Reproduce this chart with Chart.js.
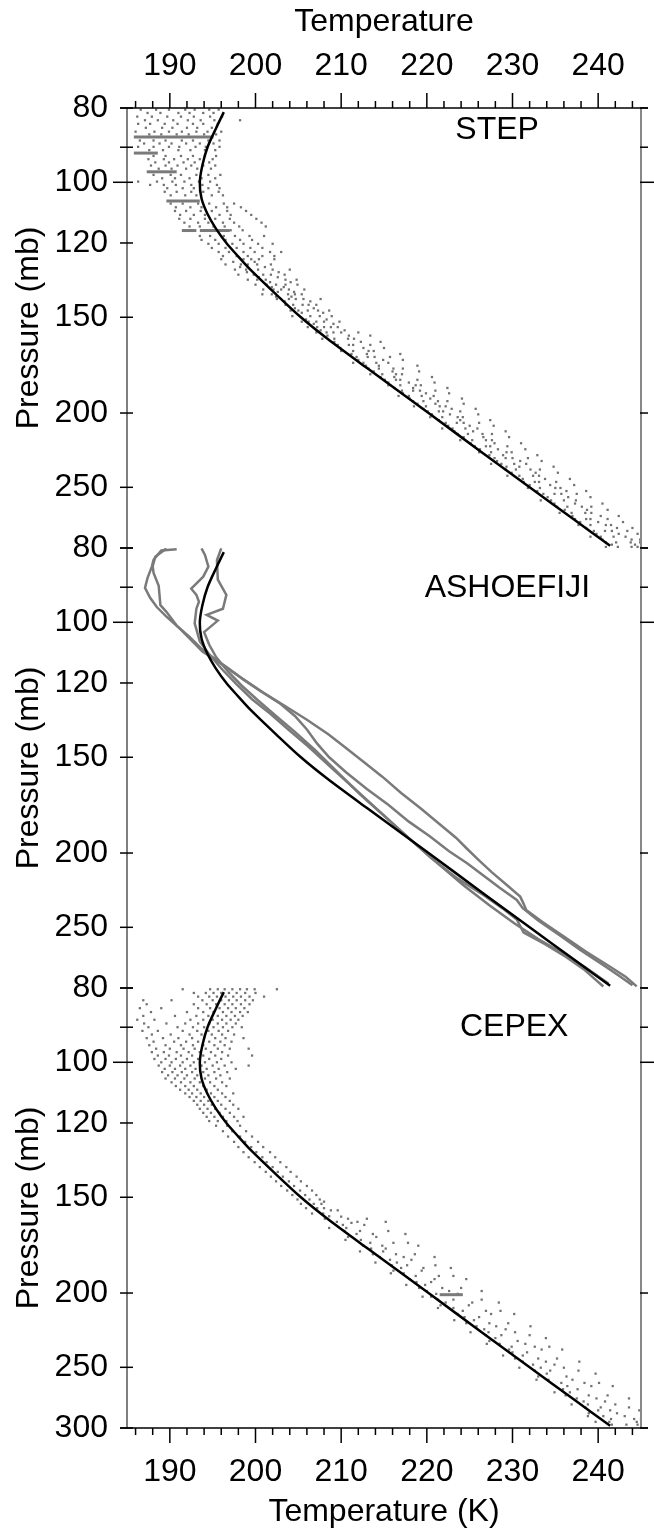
<!DOCTYPE html>
<html>
<head>
<meta charset="utf-8">
<script src="https://cdn.jsdelivr.net/npm/chart.js@4/dist/chart.umd.min.js"></script>
<style>
  html, body { margin: 0; padding: 0; background: #fff; }
  #wrap { position: relative; width: 654px; height: 1531px; }
  #wrap canvas { position: absolute; left: 0; top: 0; }
</style>
</head>
<body>
<div id="wrap">
  <canvas id="step" width="654" height="1531"></canvas>
  <canvas id="ashoe" width="654" height="1531"></canvas>
  <canvas id="cepex" width="654" height="1531"></canvas>
</div>
<script>
// axis ticks
const tempTicks = [190, 200, 210, 220, 230, 240];
const presTicks = [80, 90, 100, 120, 150, 200, 250, 300];
const rightTicks = [80, 90, 100, 200, 300];

// mean profile (black curve), pressure mb / temperature K
const meanP = [81, 85, 90, 95, 100, 105, 110, 115, 120, 125, 130, 140, 150, 160, 175, 200, 225, 250, 275, 298];
const meanT = [196.3, 195.4, 194.4, 193.8, 193.5, 193.7, 194.4, 195.4, 196.6, 198.0, 199.4, 202.4, 205.3, 208.4, 213.1, 220.2, 226.4, 232.0, 237.1, 241.4];

// STEP observations: [pressure, temperatures...]
const stepRows = [
  [80.4, 186.6, 188.4, 189.9, 191.8, 192.9, 194.6, 195.7],
  [81.2, 187.4, 188.9, 191.0, 192.3, 193.9, 195.1],
  [82.1, 186.2, 187.9, 189.7, 191.3, 192.8, 194.7, 196.1],
  [83.0, 187.1, 188.6, 190.4, 192.1, 193.6, 195.2, 198.2],
  [83.9, 186.3, 187.7, 189.4, 190.9, 192.7, 193.9, 195.6],
  [84.9, 187.2, 189.1, 190.3, 192.0, 193.2, 194.9],
  [85.9, 186.0, 188.2, 189.9, 191.4, 193.1, 194.4, 196.0],
  [86.6, 187.6, 189.0, 190.8, 192.2, 194.0, 195.4],
  [88.2, 186.5, 188.1, 189.5, 191.4, 192.7, 194.5, 195.8],
  [89.0, 187.0, 188.8, 190.2, 191.9, 193.5, 195.1],
  [89.9, 186.3, 188.1, 189.9, 191.1, 193.0, 194.2, 195.8],
  [90.8, 187.6, 189.2, 191.0, 192.4, 194.1, 195.3],
  [92.4, 188.1, 189.5, 191.3, 192.7, 194.1, 195.4],
  [93.3, 187.5, 189.3, 190.5, 192.1, 193.5, 195.0],
  [94.2, 188.3, 189.9, 191.6, 192.9, 194.6],
  [95.1, 187.8, 189.5, 190.9, 192.5, 193.9, 195.3],
  [96.0, 188.7, 190.2, 191.9, 193.2, 194.8],
  [97.8, 188.1, 190.1, 191.3, 193.1, 194.5, 195.9],
  [98.8, 189.1, 190.6, 192.3, 193.7, 195.3],
  [99.8, 186.3, 188.5, 190.3, 191.7, 193.4, 194.7],
  [100.8, 187.7, 189.3, 190.7, 192.5, 193.8, 195.5],
  [101.8, 189.7, 191.5, 192.8, 194.5, 195.8],
  [102.9, 189.4, 190.8, 192.5, 193.9, 195.7],
  [104.0, 190.1, 191.8, 193.1, 194.9, 196.2],
  [106.6, 190.1, 191.5, 193.3, 194.6, 196.3, 197.5],
  [107.8, 190.7, 192.4, 193.7, 195.4, 196.7, 198.3],
  [109.0, 190.6, 191.9, 193.6, 194.9, 196.7, 198.9],
  [110.3, 191.2, 192.8, 194.1, 195.8, 197.1, 199.5],
  [111.6, 191.1, 192.4, 194.1, 195.3, 197.0, 200.1],
  [112.9, 191.7, 193.3, 194.5, 196.2, 197.5, 200.7],
  [114.2, 192.3, 193.5, 195.1, 196.4, 198.1, 201.2],
  [115.5, 192.5, 194.2, 195.4, 197.1, 198.5],
  [117.5, 193.5, 194.7, 196.3, 197.6, 199.3, 201.0],
  [118.9, 193.7, 195.3, 196.5, 198.2, 199.6],
  [120.3, 194.5, 195.7, 197.3, 198.6, 200.3, 202.0],
  [121.8, 194.9, 196.5, 197.8, 199.4, 200.8],
  [123.3, 195.7, 196.9, 198.6, 199.9, 201.7, 203.0],
  [124.8, 196.2, 197.8, 199.1, 200.8, 202.2],
  [126, 196.0, 198.6, 199.5, 200.4, 202.2],
  [127, 197.4, 199.9],
  [128, 196.5, 198.3, 199.1, 200.2, 201.8],
  [129, 198.2, 201.1],
  [130, 197.6, 198.9, 200.3, 202.0, 204.0],
  [131, 199.0, 202.7],
  [132, 198.0, 199.8, 200.9, 201.8, 203.4],
  [133, 200.4, 202.6],
  [134, 199.1, 200.2, 201.2, 203.5, 204.8],
  [135, 201.7, 204.1],
  [136, 200.0, 201.3, 202.4, 203.5, 204.9],
  [137, 201.9, 203.3],
  [138, 200.9, 202.1, 203.0, 203.9, 205.7],
  [139, 202.6, 204.5],
  [140, 200.8, 201.9, 203.8, 204.6, 205.4],
  [141, 202.4, 204.2],
  [142, 202.5, 203.9, 204.7, 205.6, 207.6],
  [143, 203.4, 206.4],
  [144.5, 203.5, 204.4, 205.5, 206.2, 207.1],
  [146, 204.6, 206.8],
  [147, 204.1, 205.0, 206.1, 207.3, 208.6],
  [148, 205.4, 207.9],
  [149.5, 204.3, 206.4, 207.5, 208.9],
  [151, 205.9, 208.3],
  [152, 205.4, 206.2, 207.1, 208.0, 209.8],
  [153, 206.8, 209.1],
  [154.5, 206.1, 207.2, 208.0, 208.8, 209.6],
  [156, 207.6, 210.4],
  [157, 207.1, 208.3, 209.1, 210.0, 212.0],
  [158.5, 208.4, 210.9, 213.4],
  [160, 207.8, 209.2, 210.8, 211.5],
  [161.5, 209.2, 212.3, 214.6],
  [163, 209.6, 210.9, 211.4, 213.4],
  [164.5, 209.9, 212.6, 215.0],
  [166, 210.0, 211.4, 213.2, 213.8],
  [167.5, 211.2, 213.0, 216.9],
  [169, 211.8, 213.1, 213.9, 215.7],
  [170.5, 212.0, 214.9, 217.2],
  [172, 211.4, 212.6, 214.1, 215.5],
  [173.5, 212.9, 214.4, 218.9],
  [175, 213.2, 214.4, 216.1, 217.2],
  [176.5, 213.8, 216.0, 219.1],
  [178, 213.4, 214.8, 216.4, 217.1],
  [179.5, 214.6, 216.2, 220.6],
  [181, 215.1, 216.4, 216.9, 218.9],
  [182.5, 215.5, 217.9, 220.9],
  [184, 215.5, 216.9, 218.7, 219.3],
  [185.5, 216.2, 218.4, 222.4],
  [187, 217.1, 218.4, 219.2, 221.0],
  [188.5, 217.2, 219.9, 222.6],
  [190, 216.7, 217.9, 219.4, 220.8],
  [191.5, 218.0, 220.4, 224.1],
  [193, 218.4, 219.6, 221.3, 222.4],
  [194.5, 218.9, 221.0, 224.3],
  [196, 218.5, 219.9, 221.5, 222.2],
  [197.5, 219.6, 222.9, 225.7],
  [199, 220.1, 221.4, 221.9, 223.9],
  [200.8, 220.6, 222.7, 226.0],
  [202.5, 220.4, 221.8, 223.6, 224.2],
  [204.3, 221.4, 223.9, 227.4],
  [206, 222.2, 223.5, 224.3, 226.1],
  [207.8, 222.5, 225.0, 227.8],
  [209.5, 221.8, 223.0, 224.5, 225.9],
  [211.3, 223.2, 225.4, 229.2],
  [213, 223.6, 224.8, 226.5, 227.6],
  [215, 224.3, 226.6, 229.6],
  [217, 223.9, 225.3, 226.9, 227.6],
  [219, 225.1, 227.9, 231.0],
  [221, 225.6, 226.9, 227.4, 229.4],
  [223, 226.2, 228.3, 231.5],
  [225, 226.1, 227.5, 229.3, 229.9],
  [227, 227.3, 228.9, 232.9],
  [229, 227.9, 229.2, 230.0, 231.8],
  [231, 228.2, 230.9, 233.4],
  [233, 227.5, 228.7, 230.2, 231.6],
  [235, 229.3, 230.8, 234.8],
  [237, 229.2, 230.4, 232.1, 233.2],
  [239.3, 229.9, 232.7, 235.3],
  [241.5, 229.4, 230.8, 232.4, 233.1],
  [243.8, 231.2, 233.8, 236.7],
  [246, 231.3, 232.6, 233.1, 235.1],
  [248.3, 232.0, 234.4, 237.2],
  [250.5, 231.8, 233.2, 235.0, 235.6],
  [252.8, 232.9, 236.3, 238.6],
  [255, 233.6, 234.9, 235.7, 237.5],
  [257.5, 234.1, 236.5, 239.1],
  [260, 233.3, 234.5, 236.0, 237.4],
  [262.5, 234.9, 237.3, 240.5],
  [265, 235.2, 236.4, 238.1, 239.2],
  [267.5, 236.1, 238.7, 241.1],
  [270, 235.5, 236.9, 238.5, 239.2],
  [272.5, 237.0, 240.3, 242.4],
  [275, 237.3, 238.6, 239.1, 241.1],
  [277.5, 237.9, 240.0, 242.9],
  [280, 237.7, 239.1, 240.9, 241.5],
  [282.5, 238.6, 242.2, 244.0],
  [285, 239.5, 240.8, 241.6, 243.4],
  [287.5, 239.8, 242.4, 244.6],
  [290, 239.1, 240.3, 241.8, 243.2],
  [292.5, 240.5, 243.9, 244.9],
  [295, 240.9, 242.1, 243.8, 244.9],
  [297, 241.6, 244.3],
  [299, 240.9, 242.3, 243.9, 244.6]
];
// STEP level-flight legs: [pressure, T start, T end]
const stepLegs = [
  [87.3, 185.8, 195.1],
  [91.6, 185.8, 188.6],
  [96.9, 187.3, 190.8],
  [105.8, 189.6, 193.5],
  [115.6, 191.4, 193.1],
  [115.6, 193.5, 197.0]
];

// ASHOE/MAESA Fiji profiles: [temperature, pressure]
const ashoeA = [[190.8,80.3],[189.0,80.6],[188.1,82.9],[187.9,84.6],[187.4,87.5],[187.1,90.2],[187.7,92.9],[188.5,95.6],[189.6,98.3],[191.2,102.0],[192.7,106.1],[193.8,109.2],[195.6,112.5],[197.2,115.8],[198.9,119.3],[200.9,123.5],[203.4,128.5],[206.0,134],[208.5,140],[210.6,146],[212.6,152],[214.8,159],[217.0,167],[219.3,175],[221.4,183],[223.4,191],[224.6,197],[226.0,204],[227.6,212],[229.3,220],[230.9,228],[231.3,233],[231.6,237.3],[233.5,246],[236.0,257],[238.6,269],[241.3,281],[243.2,290],[244.5,298.5]];
const ashoeB = [[189.6,80.1],[188.3,82.1],[188.0,84.5],[188.1,86.2],[188.7,89.6],[188.9,95.0],[189.6,96.9],[190.8,101.0],[192.3,104.5],[193.6,108.0],[195.2,111.5],[196.9,115.0],[198.6,118.8],[200.6,123.0],[202.8,127.5],[204.6,132.5],[206.0,138],[207.2,144],[208.6,150],[210.6,157],[213.0,165],[215.5,173],[217.9,182],[220.3,190],[222.6,199],[224.7,206.2],[226.6,214],[228.5,222],[230.5,230.3],[231.2,236],[233.0,245],[235.5,256],[238.0,268],[240.8,281],[242.6,290],[244.0,297.5]];
const ashoeC = [[193.7,80.1],[194.1,81.7],[194.5,84.6],[193.9,87.2],[192.5,90.4],[193.1,92.1],[193.4,94.0],[193.1,96.0],[192.9,100.3],[193.5,105.9],[194.7,110.5],[196.2,115.5],[197.8,120.5],[199.6,126],[201.7,131.5],[203.8,137.9],[206.1,145],[208.9,155],[211.6,165],[214.6,177],[217.6,190],[220.5,203],[223.6,216],[226.6,226.9],[228.8,236],[230.5,244.2],[231.3,254],[233.8,263],[236.2,273],[238.3,283.5],[240.6,298.6]];
const ashoeD = [[196.0,80.1],[195.5,83.0],[195.6,88.0],[196.6,92.1],[196.2,96.0],[194.3,97.8],[195.6,99.5],[194.0,103.0],[194.6,107.0],[195.4,111.0],[196.8,116.0],[198.4,121.0],[200.3,126.5],[202.4,132.5],[204.6,139.0],[207.0,147.0],[209.6,157.0],[212.3,168.0],[215.3,180.0],[218.3,193.0],[221.2,206.0],[224.2,220.0],[227.3,234.0],[230.2,247.0],[233.0,259.0],[235.8,270.0],[238.5,282.0],[241.2,296.0]];

// CEPEX observations: [pressure, temperatures...]
const cepexRows = [
  [80.3, 191.5, 194.7, 195.6, 196.4, 197.3, 198.2, 199.0, 199.9, 202.5],
  [81.2, 192.8, 194.2, 195.1, 196.0, 196.9, 197.8, 198.8, 200.0],
  [82.1, 193.3, 194.6, 195.5, 196.5, 197.4, 198.3, 199.3, 201.0],
  [83.0, 186.9, 190.2, 193.8, 195.0, 196.0, 196.9, 197.8, 198.8, 199.7],
  [84.0, 187.3, 192.8, 194.3, 195.4, 196.4, 197.3, 198.3, 199.3],
  [85.0, 186.5, 189.0, 193.3, 194.7, 195.8, 196.8, 197.7, 198.7],
  [86.0, 187.8, 192.0, 193.9, 195.1, 196.2, 197.2, 198.2, 199.1],
  [87.0, 186.9, 190.6, 193.1, 194.5, 195.6, 196.6, 197.6, 198.5],
  [88.0, 186.2, 188.2, 192.4, 193.9, 195.0, 196.1, 197.1, 198.0],
  [89.0, 187.0, 189.6, 191.8, 193.3, 194.6, 195.6, 196.6, 197.7],
  [90.0, 187.5, 190.9, 192.7, 194.0, 195.1, 196.2, 197.3, 198.4],
  [91.0, 186.8, 188.6, 191.5, 193.2, 194.5, 195.7, 196.8],
  [92.0, 187.9, 190.1, 192.3, 193.7, 194.9, 196.1, 197.5],
  [93.0, 187.3, 189.2, 191.0, 192.6, 194.0, 195.3, 196.5, 198.6],
  [94.0, 188.1, 190.5, 191.9, 193.3, 194.6, 195.9, 197.2],
  [95.0, 187.6, 189.5, 191.3, 192.7, 193.9, 195.2, 196.4],
  [96.0, 188.4, 190.0, 191.6, 192.9, 194.2, 195.6, 197.0, 199.2],
  [97.0, 187.9, 189.3, 190.8, 192.2, 193.5, 194.8, 196.1],
  [98.0, 188.6, 189.9, 191.3, 192.6, 193.9, 195.3, 196.8, 199.6],
  [99.0, 188.2, 189.5, 190.7, 192.0, 193.3, 194.6, 196.0],
  [100.0, 189.0, 190.2, 191.5, 192.8, 194.1, 195.5, 197.2],
  [101.0, 188.7, 190.0, 191.2, 192.4, 193.7, 195.0, 196.4, 199.2],
  [102.0, 189.4, 190.6, 191.8, 193.0, 194.3, 195.7, 197.7],
  [103.0, 189.1, 190.3, 191.4, 192.6, 193.9, 195.2, 196.7],
  [104.0, 189.8, 190.9, 192.0, 193.2, 194.5, 195.9],
  [105.0, 189.5, 190.6, 191.7, 192.9, 194.1, 195.4, 197.0],
  [106.2, 190.2, 191.3, 192.4, 193.5, 194.7, 196.1],
  [107.4, 190.7, 191.8, 192.8, 193.9, 195.2, 196.6],
  [108.6, 191.2, 192.2, 193.2, 194.3, 195.6],
  [109.8, 191.8, 192.6, 193.6, 194.8, 196.1, 197.4],
  [111.0, 192.3, 193.1, 194.0, 195.2, 196.5],
  [112.3, 192.8, 193.6, 194.5, 195.6, 197.0],
  [113.6, 193.2, 194.0, 194.9, 196.0, 197.4],
  [115.0, 193.5, 194.4, 195.3, 196.5, 198.0],
  [116.4, 193.9, 194.8, 195.8, 197.0],
  [117.8, 194.3, 195.2, 196.2, 197.5, 198.6],
  [119.3, 194.6, 195.6, 196.6, 197.9],
  [121, 195.4, 196.7, 198.2],
  [123, 196.2, 197.3, 198.9],
  [125, 196.8, 198.2, 199.6],
  [127, 197.5, 198.8, 200.3],
  [129, 198.0, 199.5, 200.9],
  [131, 198.6, 200.1, 201.7],
  [133, 199.2, 200.8, 202.3],
  [135, 199.9, 201.3, 202.9],
  [137, 200.5, 202.0, 203.6],
  [139, 201.2, 202.6, 204.1],
  [141, 201.8, 203.2, 204.8],
  [143, 202.4, 203.9, 205.3],
  [145, 203.0, 204.5, 206.0],
  [147, 203.7, 205.2, 206.6],
  [149, 204.3, 205.8, 207.1],
  [151, 204.9, 206.3, 207.5],
  [152, 208.0],
  [153, 205.3, 206.8, 207.7],
  [155, 205.9, 207.2, 208.0],
  [156, 208.8, 209.6],
  [157.5, 206.6, 207.9],
  [158.8, 208.6],
  [159, 210.0],
  [160, 208.1, 210.8, 213.0],
  [161.5, 209.5, 211.9, 215.2],
  [162, 211.2],
  [163, 210.2, 212.7],
  [164.5, 208.6, 210.6],
  [166, 210.4, 212.2, 215.5],
  [167.5, 211.8, 213.7, 217.5],
  [169, 210.8, 214.1],
  [170.5, 210.5, 212.3],
  [172, 213.4, 216.1, 217.8],
  [173.5, 212.6, 214.8, 219.0],
  [175, 213.5, 215.2],
  [176.5, 212.2, 214.9],
  [178, 213.7, 216.4, 218.6],
  [179.5, 214.5, 217.3, 220.9],
  [181, 215.7, 218.2],
  [182.5, 214.0, 216.5],
  [184, 215.9, 217.7, 221.0],
  [185.5, 217.0, 219.6, 222.8],
  [187, 216.1, 219.4],
  [188.5, 215.8, 217.3],
  [190, 218.7, 221.4, 223.1],
  [191.8, 218.0, 220.9, 224.6],
  [193.5, 218.8, 220.5],
  [195.2, 217.6, 219.8],
  [197, 219.1, 221.8, 224.0],
  [198.8, 220.0, 222.6, 226.4],
  [200.5, 221.1, 223.6],
  [202.2, 219.5, 220.5],
  [204, 221.3, 223.1, 226.4],
  [205.8, 222.2, 225.3, 228.4],
  [207.5, 221.6, 224.9],
  [209.2, 221.3, 223.1],
  [211, 224.2, 226.9, 228.6],
  [213, 223.6, 227.5, 230.2],
  [215, 224.4, 226.1],
  [217, 223.2, 225.5],
  [219, 224.6, 227.3, 229.5],
  [221, 225.8, 228.1, 232.1],
  [223, 226.7, 229.2],
  [225, 225.1, 227.2, 230.3],
  [227, 226.9, 228.7, 232.0],
  [229, 228.0, 233.9],
  [231, 227.3, 230.6],
  [233, 227.0, 228.5, 231.5],
  [235, 229.9, 232.6, 234.3],
  [237, 229.6, 233.4, 235.8],
  [239, 230.0, 231.7],
  [241.3, 228.9, 231.2],
  [243.5, 230.3, 233.0, 235.2],
  [245.8, 231.2, 233.9, 237.8],
  [248, 232.4, 234.9],
  [250.3, 230.8, 233.3, 236.0],
  [252.5, 232.6, 234.4, 237.7],
  [254.8, 234.0, 239.7],
  [257, 233.0, 236.3],
  [259.5, 232.8, 234.2, 237.0],
  [262, 235.7, 238.4, 240.1],
  [264.5, 236.4, 239.2, 241.7],
  [267, 235.9, 237.6],
  [269.5, 234.9, 236.7],
  [272, 236.2, 238.9, 241.1],
  [274.5, 237.5, 239.8, 243.6],
  [277, 238.3, 240.8],
  [279.5, 236.9, 238.8, 242.0],
  [282, 238.5, 240.3, 243.6],
  [284.5, 240.0, 241.4, 244.8],
  [287, 238.9, 242.2],
  [289.5, 238.8, 240.6, 243.1],
  [292, 241.5, 244.2, 245.0],
  [294.5, 239.7, 241.3, 244.5],
  [297, 241.6, 243.3, 244.6]
];
const cepexLegs = [
  [201, 221.5, 224.2]
];

const FONT = '"Liberation Sans", Arial, Helvetica, sans-serif';
Chart.defaults.font.family = FONT;
Chart.defaults.font.size = 32;
Chart.defaults.color = '#000';

function rowsToPoints(rows) {
  const pts = [];
  rows.forEach(r => r.slice(1).forEach(t => pts.push({x: t, y: r[0]})));
  return pts;
}
function pairsToPoints(arr) {
  return arr.map(([t, p]) => ({x: t, y: p}));
}

const dotStyle = { showLine: false, pointRadius: 1.6, pointStyle: 'rect', backgroundColor: '#727272', borderWidth: 0, order: 3 };
const grayLine = { showLine: true, pointRadius: 0, borderColor: '#7a7a7a', borderWidth: 2.5, tension: 0, order: 2 };
const meanLine = {
  data: meanP.map((p, i) => ({x: meanT[i], y: p})),
  showLine: true, pointRadius: 0, borderColor: '#000', borderWidth: 2.5, tension: 0.3, order: 0
};
function legsToSets(legs) {
  return legs.map(([p, t0, t1]) => Object.assign({ data: [{x: t0, y: p}, {x: t1, y: p}] }, grayLine, { borderWidth: 3 }));
}

// frame: axis lines, tick marks, panel name
const framePlugin = {
  id: 'frame',
  afterDraw(chart, args, o) {
    const {ctx, chartArea: a} = chart;
    const x = chart.scales.x, y = chart.scales.y;
    const seg = (x0, y0, x1, y1) => { ctx.beginPath(); ctx.moveTo(x0, y0); ctx.lineTo(x1, y1); ctx.stroke(); };
    ctx.save();
    ctx.lineWidth = 1.5; ctx.strokeStyle = '#555';
    seg(a.left, a.top, a.left, a.bottom);
    ctx.lineWidth = 2; ctx.strokeStyle = '#888';
    seg(a.right, a.top, a.right, a.bottom);
    ctx.lineWidth = 1.5; ctx.strokeStyle = '#000';
    presTicks.forEach(v => {
      const py = y.getPixelForValue(v);
      seg(a.left - (v === 100 ? 14 : 7), py, a.left + 6, py);
    });
    rightTicks.forEach(v => {
      const py = y.getPixelForValue(v);
      seg(a.right - 1, py, a.right + (v === 100 ? 13 : 7), py);
    });
    if (o.edge) {
      const ey = o.edge === 'top' ? a.top : a.bottom;
      const dir = o.edge === 'top' ? -1 : 1;
      seg(a.left - 7, ey, a.right + 7, ey);
      for (let t = 186; t < 245; t += 2) {
        const px = x.getPixelForValue(t);
        seg(px, ey, px, ey + dir * (t % 10 === 0 ? 15 : 7));
      }
    }
    ctx.font = '32px ' + FONT;
    ctx.fillStyle = '#000';
    ctx.textAlign = 'center';
    ctx.textBaseline = 'middle';
    ctx.fillText(o.label, x.getPixelForValue(o.at[0]), y.getPixelForValue(o.at[1]));
    ctx.restore();
  }
};

function makePanel(id, datasets, cfg) {
  const xScale = {
    type: 'linear', min: 185, max: 245,
    display: !!cfg.edge,
    position: cfg.edge || 'bottom',
    afterBuildTicks: s => { s.ticks = tempTicks.map(v => ({value: v})); },
    grid: { display: false, drawTicks: false },
    border: { display: false },
    ticks: { padding: cfg.edge === 'top' ? 23 : 25, maxRotation: 0, autoSkip: false },
    title: {
      display: true,
      text: cfg.edge === 'top' ? 'Temperature' : 'Temperature (K)',
      padding: cfg.edge === 'top' ? {top: 3, bottom: 0} : {top: 0, bottom: 0}
    }
  };
  if (cfg.edge) {
    xScale.afterFit = s => { s.height = cfg.edge === 'top' ? 108 : 103; };
  }
  new Chart(document.getElementById(id), {
    type: 'scatter',
    data: { datasets },
    options: {
      responsive: false,
      animation: false,
      layout: { padding: cfg.padding },
      plugins: { legend: { display: false }, tooltip: { enabled: false },
        frame: { edge: cfg.edge, label: cfg.label, at: cfg.at } },
      scales: {
        x: xScale,
        y: {
          type: 'logarithmic', reverse: true, min: 80, max: 300, position: 'left',
          afterBuildTicks: s => { s.ticks = presTicks.map(v => ({value: v})); },
          afterFit: s => { s.width = 127; },
          grid: { display: false, drawTicks: false },
          border: { display: false },
          ticks: {
            padding: 19, autoSkip: false,
            callback: v => (v === 90 || (v === 300 && !cfg.last)) ? '' : String(v)
          },
          title: { display: true, text: 'Pressure (mb)', padding: {top: 10, bottom: 0} }
        }
      }
    },
    plugins: [framePlugin]
  });
}

makePanel('step',
  [meanLine, Object.assign({ data: rowsToPoints(stepRows) }, dotStyle), ...legsToSets(stepLegs)],
  { edge: 'top', padding: {top: 0, bottom: 983, left: 0, right: 13}, label: 'STEP', at: [228.2, 85.5] });

makePanel('ashoe',
  [Object.assign({}, meanLine),
   Object.assign({ data: pairsToPoints(ashoeA) }, grayLine),
   Object.assign({ data: pairsToPoints(ashoeB) }, grayLine),
   Object.assign({ data: pairsToPoints(ashoeC) }, grayLine),
   Object.assign({ data: pairsToPoints(ashoeD) }, grayLine)],
  { edge: null, padding: {top: 548, bottom: 543, left: 0, right: 13}, label: 'ASHOEFIJI', at: [229.4, 90.2] });

makePanel('cepex',
  [Object.assign({}, meanLine), Object.assign({ data: rowsToPoints(cepexRows) }, dotStyle), ...legsToSets(cepexLegs)],
  { edge: 'bottom', last: true, padding: {top: 988, bottom: 0, left: 0, right: 13}, label: 'CEPEX', at: [230.2, 89.9] });
</script>
</body>
</html>
